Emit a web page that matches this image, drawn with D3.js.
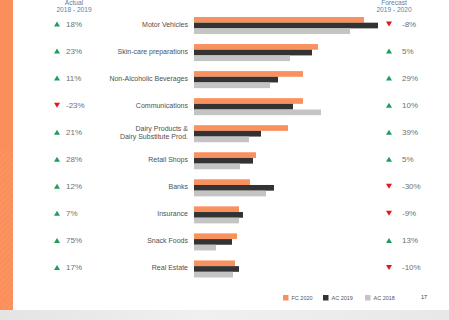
<!DOCTYPE html>
<html>
<head>
<meta charset="utf-8">
<script src="https://cdn.jsdelivr.net/npm/d3@7"></script>
<style>
  body { margin: 0; background: #fff; }
  svg { display: block; font-family: "Liberation Sans", Arial, sans-serif; }
</style>
</head>
<body>
<div id="container"></div>
<script>
/* CONSTANTS AND GLOBALS */
const width = 449,
  height = 320;

/* DATA */
const categories = ["Motor Vehicles", "Skin-care preparations", "Non-Alcoholic Beverages",
  "Communications", "Dairy Products &\nDairy Substitute Prod.", "Retail Shops", "Banks",
  "Insurance", "Snack Foods", "Real Estate"];
const series = ["FC 2020", "AC 2019", "AC 2018"];
const fc2020 = [170, 124, 109, 109, 94, 62, 56, 45, 43, 41];
const ac2019 = [184, 118, 84, 99, 67, 59, 80, 49, 38, 45];
const ac2018 = [156, 96, 76, 127, 55, 46, 72, 45, 22, 39];
const actualChange = ["18%", "23%", "11%", "-23%", "21%", "28%", "12%", "7%", "75%", "17%"];
const forecastChange = ["-8%", "5%", "29%", "10%", "39%", "5%", "-30%", "-9%", "13%", "-10%"];
const pageNumber = "17";

const colors = { "FC 2020": "#f9915f", "AC 2019": "#333333", "AC 2018": "#c4c4c4" };

const rows = categories.map((c, i) => ({
  cat: c,
  vals: [fc2020[i], ac2019[i], ac2018[i]],
  act: actualChange[i],
  fc: forecastChange[i]
}));

// CREATE SVG ELEMENT
const svg = d3.select("#container")
  .append("svg")
  .attr("width", width)
  .attr("height", height);

const defs = svg.append("defs");
const hatch = defs.append("pattern")
  .attr("id", "hatch")
  .attr("patternUnits", "userSpaceOnUse")
  .attr("width", 4).attr("height", 4)
  .attr("patternTransform", "rotate(45)");
hatch.append("rect").attr("width", 4).attr("height", 4).attr("fill", "#fb8f5c");
hatch.append("line").attr("x1", 0).attr("y1", 0).attr("x2", 0).attr("y2", 4)
  .attr("stroke", "#fca47a").attr("stroke-width", 1);

const grad = defs.append("linearGradient").attr("id", "floor")
  .attr("x1", 0).attr("x2", 1).attr("y1", 0).attr("y2", 0);
grad.append("stop").attr("offset", "0%").attr("stop-color", "#e4e4e4");
grad.append("stop").attr("offset", "45%").attr("stop-color", "#f0f0f0");
grad.append("stop").attr("offset", "100%").attr("stop-color", "#e8e8e8");

// BACKGROUND
svg.append("rect").attr("width", width).attr("height", height).attr("fill", "#fff");
svg.append("rect").attr("x", 0).attr("y", 0).attr("width", 13).attr("height", 310)
  .attr("fill", "#fb8f5c");
svg.append("rect").attr("x", 0).attr("y", 150).attr("width", 13).attr("height", 160)
  .attr("fill", "url(#hatch)").attr("opacity", 0.7);
svg.append("rect").attr("x", 0).attr("y", 310).attr("width", width).attr("height", 10)
  .attr("fill", "url(#floor)");

// SCALES
const yScale = d3.scaleBand()
  .domain(categories)
  .range([17, 17 + 27.05 * categories.length])
  .paddingInner(0.37)
  .paddingOuter(0.185)
  .align(0);

const ySub = d3.scaleBand()
  .domain(series)
  .range([0, yScale.bandwidth()]);

const xScale = d3.scaleLinear()
  .domain([0, 200])
  .range([194, 394]);

// BARS
const groups = svg.selectAll("g.row")
  .data(rows)
  .join("g")
  .attr("class", "row")
  .attr("transform", d => `translate(0,${yScale(d.cat)})`);

groups.selectAll("rect")
  .data(d => d.vals.map((v, i) => ({ s: series[i], v })))
  .join("rect")
  .attr("x", xScale(0))
  .attr("y", d => ySub(d.s))
  .attr("width", d => xScale(d.v) - xScale(0))
  .attr("height", ySub.bandwidth())
  .attr("fill", d => colors[d.s]);

// CATEGORY LABELS
const mid = d => yScale(d.cat) + yScale.bandwidth() / 2;

groups.each(function (d) {
  const lines = d.cat.split("\n");
  const t = d3.select(this).append("text")
    .attr("x", 188)
    .attr("text-anchor", "end")
    .attr("font-size", 7)
    .attr("fill", "#505050");
  lines.forEach((ln, i) => {
    t.append("tspan")
      .attr("x", 188)
      .attr("y", yScale.bandwidth() / 2 + 1.5 + (i - (lines.length - 1) / 2) * 8.5)
      .text(ln);
  });
});

// CHANGE INDICATORS
const triUp = "M-3,2.5L3,2.5L0,-2.5Z";
const triDown = "M-3,-2.5L3,-2.5L0,2.5Z";
const isNeg = s => s.trim().startsWith("-");

function changeColumn(key, triX, textX) {
  svg.selectAll(`path.tri-${key}`)
    .data(rows)
    .join("path")
    .attr("class", `tri-${key}`)
    .attr("d", d => isNeg(d[key]) ? triDown : triUp)
    .attr("transform", d => `translate(${triX},${mid(d) - 1.5})`)
    .attr("fill", d => isNeg(d[key]) ? "#e8141c" : "#1f9d5b");

  svg.selectAll(`text.pct-${key}`)
    .data(rows)
    .join("text")
    .attr("class", `pct-${key}`)
    .attr("x", textX)
    .attr("y", d => mid(d) + 1.5)
    .attr("font-size", 8)
    .attr("fill", "#707070")
    .text(d => d[key]);
}
changeColumn("act", 57, 66);
changeColumn("fc", 389, 402);

// COLUMN HEADERS
const headers = [
  { x: 74, lines: ["Actual", "2018 - 2019"] },
  { x: 394, lines: ["Forecast", "2019 - 2020"] }
];
headers.forEach(h => {
  h.lines.forEach((ln, i) => {
    svg.append("text")
      .attr("x", h.x)
      .attr("y", 5 + i * 7)
      .attr("text-anchor", "middle")
      .attr("font-size", 6.6)
      .attr("fill", "#5d7fa6")
      .text(ln);
  });
});

// LEGEND
const legendX = [283, 323, 365];
const legend = svg.selectAll("g.legend")
  .data(series)
  .join("g")
  .attr("class", "legend")
  .attr("transform", (d, i) => `translate(${legendX[i]},295)`);
legend.append("rect")
  .attr("width", 5.5).attr("height", 5.5)
  .attr("fill", d => colors[d]);
legend.append("text")
  .attr("x", 8.5).attr("y", 5)
  .attr("font-size", 5.5)
  .attr("fill", "#555")
  .text(d => d);

svg.append("text")
  .attr("x", 421).attr("y", 299)
  .attr("font-size", 5.5)
  .attr("fill", "#333")
  .text(pageNumber);
</script>
</body>
</html>
